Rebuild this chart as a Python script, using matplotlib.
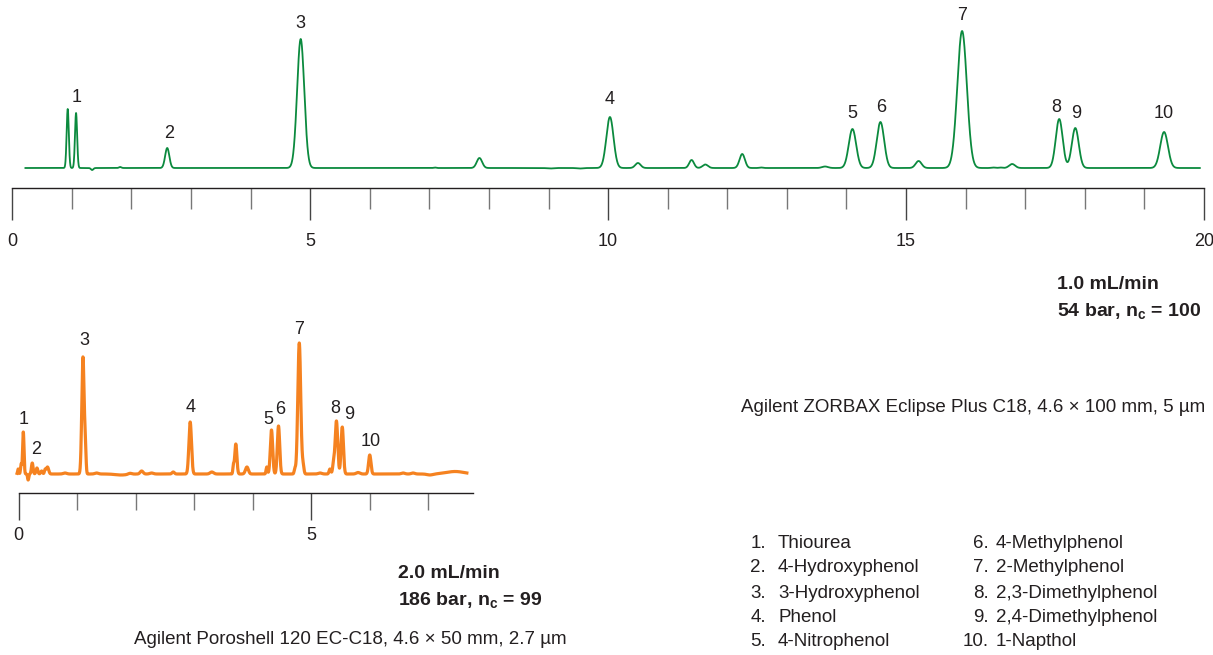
import numpy as np
import matplotlib.pyplot as plt
from matplotlib.ticker import MultipleLocator

plt.rcParams['font.family'] = ['Liberation Sans', 'DejaVu Sans']
plt.rcParams['mathtext.fontset'] = 'custom'
plt.rcParams['mathtext.rm'] = 'Liberation Sans'
plt.rcParams['mathtext.bf'] = 'Liberation Sans:bold'

GREEN = '#0b8a3e'
ORANGE = '#f58220'
INK = '#231f20'

compounds = ['Thiourea', '4-Hydroxyphenol', '3-Hydroxyphenol', 'Phenol', '4-Nitrophenol',
             '4-Methylphenol', '2-Methylphenol', '2,3-Dimethylphenol', '2,4-Dimethylphenol',
             '1-Napthol']

# ZORBAX Eclipse Plus C18 4.6x100, 1.0 mL/min : numbered peaks (min, mAU, sigma min)
top_rt = [1.07, 2.60, 4.84, 10.03, 14.10, 14.57, 15.94, 17.57, 17.84, 19.33]
top_ht = [55, 20, 129, 51, 39, 46, 137, 49, 40, 36]
top_sd = [0.018, 0.035, 0.06, 0.06, 0.062, 0.062, 0.08, 0.058, 0.058, 0.065]
# unnumbered bumps
top_x_rt = [0.93, 1.34, 1.81, 7.09, 7.84, 9.02, 9.53, 10.50, 11.40, 11.63, 12.25, 12.57,
            13.64, 15.21, 16.46, 16.58, 16.78]
top_x_ht = [59, -2, 1, 0.5, 10, -0.5, -0.5, 5, 8, 3.5, 14, 0.5, 1.5, 7, 0.5, 0.5, 4]
top_x_sd = [0.018, 0.02, 0.02, 0.02, 0.045, 0.05, 0.05, 0.045, 0.04, 0.045, 0.045, 0.03,
            0.05, 0.05, 0.03, 0.03, 0.05]

# Poroshell 120 EC-C18 4.6x50, 2.0 mL/min
bot_rt = [0.077, 0.23, 1.097, 2.93, 4.32, 4.44, 4.795, 5.43, 5.53, 6.00]
bot_ht = [42, 11, 117, 52, 44, 48, 131, 53, 47, 19]
bot_sd = [0.012, 0.014, 0.02, 0.022, 0.02, 0.02, 0.025, 0.022, 0.02, 0.02]
bot_x_rt = [-0.01, 0.04, 0.16, 0.31, 0.39, 0.45, 0.49, 0.79, 1.137, 1.33, 1.75, 1.90, 2.10,
            2.27, 2.64, 3.30, 3.67, 3.71, 3.90, 4.24, 4.72, 4.86, 5.15, 5.32, 5.38, 5.80,
            6.57, 6.74, 7.03, 7.46]
bot_x_ht = [5, 10, -6, 6, 3, 4, 7, 1, 25, 1, -1, 1, 3, 1, 2, 2, 8, 30, 7, 7, 5, 8, 1, 5, 10,
            1.5, 1, 1, -1, 2.5]
bot_x_sd = [0.01, 0.01, 0.01, 0.015, 0.015, 0.012, 0.02, 0.03, 0.012, 0.03, 0.1, 0.03, 0.025,
            0.03, 0.02, 0.03, 0.01, 0.018, 0.025, 0.012, 0.012, 0.015, 0.03, 0.015, 0.015,
            0.03, 0.03, 0.03, 0.05, 0.15]

top_ticks = [0, 5, 10, 15, 20]
bot_ticks = [0, 5]


def trace(t, rt, ht, sd):
    y = np.zeros_like(t)
    for r, h, s in zip(rt, ht, sd):
        y += h * np.exp(-0.5 * ((t - r) / s) ** 2)
    return y


W, H = 1213, 655
fig = plt.figure(figsize=(W / 100, H / 100), dpi=100)


def px_axes(x0, x1, ytop, ybot):
    return fig.add_axes([x0 / W, 1 - ybot / H, (x1 - x0) / W, (ybot - ytop) / H])


def style(ax, ticks, major_len, minor_len, pad):
    for s in ('top', 'left', 'right'):
        ax.spines[s].set_visible(False)
    ax.spines['bottom'].set_color(INK)
    ax.spines['bottom'].set_linewidth(1.0)
    ax.set_yticks([])
    ax.set_xticks(ticks)
    ax.xaxis.set_minor_locator(MultipleLocator(1))
    ax.tick_params(axis='x', which='major', length=major_len, width=1.0, color='#444444',
                   pad=pad, labelsize=13, labelcolor=INK)
    ax.tick_params(axis='x', which='minor', length=minor_len, width=1.0, color='#777777')
    ax.patch.set_alpha(0)


# top chromatogram
ax1 = px_axes(12.3, 1204, 5, 188.3)
t1 = np.linspace(0.22, 19.93, 8000)
y1 = trace(t1, top_rt + top_x_rt, top_ht + top_x_ht, top_sd + top_x_sd)
ax1.plot(t1, y1, color=GREEN, lw=1.3, clip_on=False)
ax1.set_xlim(0, 20)
ax1.set_ylim(-20.3, 163)
style(ax1, top_ticks, 23.3, 15.1, 9)

top_dx = [1, 2, 0, 0, 0, 1, 0, -3, 1, 0]
top_dy = [15, 15, 15, 17, 16, 14, 16, 11, 15, 19]
for i, (r, h) in enumerate(zip(top_rt, top_ht)):
    ax1.annotate(str(i + 1), xy=(r, h), xytext=(top_dx[i] * 0.72, top_dy[i] * 0.72),
                 textcoords='offset points', ha='center', va='center', fontsize=13,
                 color=INK, annotation_clip=False)

# bottom chromatogram
ax2 = px_axes(18.8, 472.7, 320, 492.7)
t2 = np.linspace(-0.03, 7.66, 6000)
y2 = trace(t2, bot_rt + bot_x_rt, bot_ht + bot_x_ht, bot_sd + bot_x_sd)
ax2.plot(t2, y2, color=ORANGE, lw=2.3, clip_on=False, solid_joinstyle='round')
ax2.set_xlim(0, 7.76)
ax2.set_ylim(-18.7, 154)
style(ax2, bot_ticks, 19.7, 12.5, 5)

bot_dx = [0, 4, 1, 0, -3, 2, 0, -1, 7, 1]
bot_dy = [12, 14, 16, 14, 10, 16, 13, 12, 12, 13]
for i, (r, h) in enumerate(zip(bot_rt, bot_ht)):
    ax2.annotate(str(i + 1), xy=(r, h), xytext=(bot_dx[i] * 0.72, bot_dy[i] * 0.72),
                 textcoords='offset points', ha='center', va='center', fontsize=13,
                 color=INK, annotation_clip=False)


def ftext(x, y, s, **kw):
    kw.setdefault('fontsize', 13.5)
    kw.setdefault('color', INK)
    kw.setdefault('va', 'center')
    fig.text(x / W, 1 - y / H, s, **kw)


ftext(1057, 285, '1.0 mL/min', weight='bold', fontsize=14)
ftext(1057, 311, r'54 bar, $\mathbf{n_c}$ = 100', weight='bold', fontsize=14)
ftext(1205, 407, 'Agilent ZORBAX Eclipse Plus C18, 4.6 × 100 mm, 5 µm', ha='right')

ftext(398, 573, '2.0 mL/min', weight='bold', fontsize=14)
ftext(398, 600, r'186 bar, $\mathbf{n_c}$ = 99', weight='bold', fontsize=14)
ftext(350, 640, 'Agilent Poroshell 120 EC-C18, 4.6 × 50 mm, 2.7 µm', ha='center')

rows = [544, 568, 593, 617, 642]
for i, name in enumerate(compounds):
    col, row = divmod(i, 5)
    num_x = 766 if col == 0 else 989
    name_x = 778 if col == 0 else 996
    ftext(num_x, rows[row], f'{i + 1}.', ha='right')
    ftext(name_x, rows[row], name, ha='left')

fig.savefig('out.png', dpi=100)
